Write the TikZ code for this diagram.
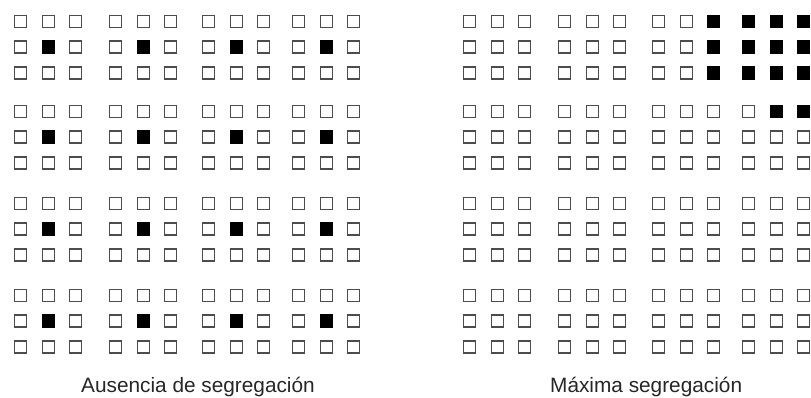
\documentclass[tikz,border=0pt]{standalone}
\usepackage{fontspec}
\setmainfont{Liberation Sans}
\begin{document}
\begin{tikzpicture}[x=1pt,y=-1pt,
  sq/.style={draw=black!70, line width=1.1pt, fill=white, minimum size=12pt, inner sep=0pt, outer sep=0pt},
  fsq/.style={sq, fill=black, draw=black},
  lbl/.style={font=\fontsize{20.8}{24}\selectfont, inner sep=0pt, anchor=base west, text=black!85}]
\useasboundingbox (0,0) rectangle (811,397);
% left group: no segregation
\foreach \bx [count=\i] in {14,109,202,292} {
  \foreach \by [count=\j] in {15,105,197,289} {
    \foreach \cx [count=\c] in {0,28,55} {
      \foreach \ry [count=\r] in {0,25.5,51.5} {
        \pgfmathtruncatemacro\f{(\c==2)&&(\r==2)}
        \ifnum\f=1
          \node[fsq] (L-\i-\j-\r-\c) at (\bx+\cx+6.5,\by+\ry+6.5) {};
        \else
          \node[sq] (L-\i-\j-\r-\c) at (\bx+\cx+6.5,\by+\ry+6.5) {};
        \fi
      }
    }
  }
}
% right group: maximal segregation
\foreach \bx [count=\i] in {463,558,652,742} {
  \foreach \by [count=\j] in {15,105,197,289} {
    \foreach \cx [count=\c] in {0,28,55} {
      \foreach \ry [count=\r] in {0,25.5,51.5} {
        \pgfmathtruncatemacro\f{((\i==3)&&(\j==1)&&(\c==3)) || ((\i==4)&&(\j==1)) || ((\i==4)&&(\j==2)&&(\r==1)&&(\c>1))}
        \ifnum\f=1
          \node[fsq] (R-\i-\j-\r-\c) at (\bx+\cx+6.5,\by+\ry+6.5) {};
        \else
          \node[sq] (R-\i-\j-\r-\c) at (\bx+\cx+6.5,\by+\ry+6.5) {};
        \fi
      }
    }
  }
}
\node[lbl] (tl) at (81,392) {Ausencia de segregación};
\node[lbl] (tr) at (550,392) {Máxima segregación};
\end{tikzpicture}
\end{document}
